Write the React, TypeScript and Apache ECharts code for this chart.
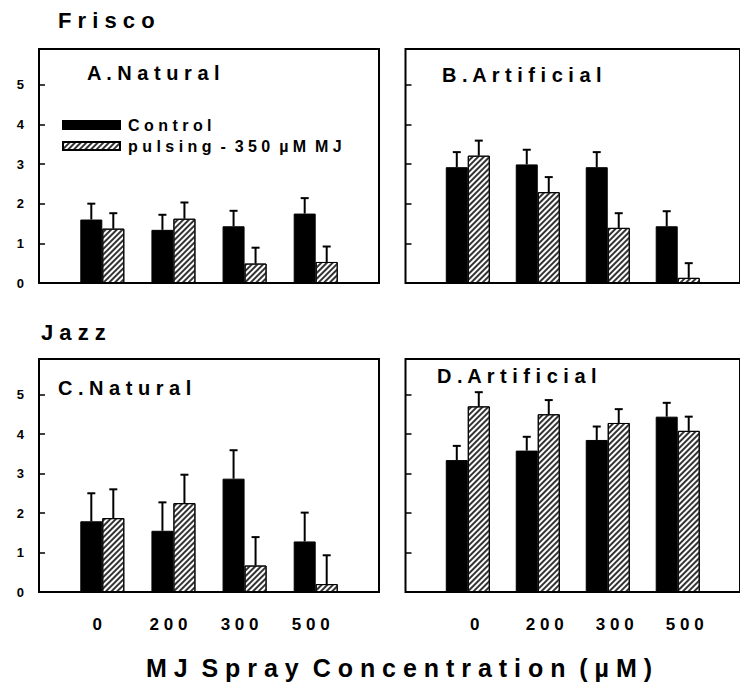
import React, { useEffect, useRef } from "react";
import * as echarts from "echarts";

// ---- data ----
const categories = ["0", "200", "300", "500"];
const xTickLabels = ["0", "2 0 0", "3 0 0", "5 0 0"];
const yTickValues = [0, 1, 2, 3, 4, 5];

const CONTROL = "C o n t r o l";
const PULSING = "p u l s i n g \u00A0- \u00A03 5 0 \u00A0µ M \u00A0M J";

// Frisco – A. Natural
const aControl = [1.6, 1.34, 1.43, 1.75];
const aControlErr = [0.4, 0.38, 0.39, 0.39];
const aPulsing = [1.37, 1.62, 0.49, 0.53];
const aPulsingErr = [0.39, 0.41, 0.4, 0.39];
// Frisco – B. Artificial
const bControl = [2.92, 2.99, 2.92, 1.43];
const bControlErr = [0.38, 0.37, 0.38, 0.38];
const bPulsing = [3.21, 2.29, 1.39, 0.13];
const bPulsingErr = [0.38, 0.38, 0.37, 0.37];
// Jazz – C. Natural
const cControl = [1.79, 1.55, 2.87, 1.28];
const cControlErr = [0.71, 0.72, 0.72, 0.73];
const cPulsing = [1.87, 2.25, 0.67, 0.2];
const cPulsingErr = [0.73, 0.72, 0.72, 0.73];
// Jazz – D. Artificial
const dControl = [3.34, 3.58, 3.85, 4.44];
const dControlErr = [0.36, 0.35, 0.34, 0.35];
const dPulsing = [4.7, 4.5, 4.28, 4.08];
const dPulsingErr = [0.36, 0.36, 0.35, 0.36];

const panelTitles = ["A . N a t u r a l", "B . A r t i f i c i a l", "C . N a t u r a l", "D . A r t i f i c i a l"];
const groupTitles = ["F r i s c o", "J a z z"];
const xAxisTitle = "M J \u00A0S p r a y \u00A0C o n c e n t r a t i o n \u00A0( µ M )";

const FONT = '"Liberation Sans", Arial, Helvetica, sans-serif';
const BAR_W = 22;

const hatch = {
  symbol: "rect",
  symbolSize: 1,
  color: "#333333",
  dashArrayX: [1, 0],
  dashArrayY: [2, 2],
  rotation: -Math.PI / 4,
};

function barSeries(name: string, idx: number, values: number[], hatched: boolean) {
  return {
    type: "bar",
    name,
    xAxisIndex: idx,
    yAxisIndex: idx,
    barWidth: BAR_W,
    barGap: "0%",
    data: values.map((v, i) => [i + 1, v]),
    itemStyle: hatched
      ? { color: "#ffffff", borderColor: "#000", borderWidth: 1, decal: hatch }
      : { color: "#000000", borderColor: "#000", borderWidth: 1 },
  };
}

function errSeries(idx: number, values: number[], errs: number[], offset: number) {
  return {
    type: "custom",
    xAxisIndex: idx,
    yAxisIndex: idx,
    silent: true,
    z: 5,
    data: values.map((v, i) => [i + 1, v, v + errs[i]]),
    renderItem: (params: any, api: any) => {
      const x = api.value(0);
      const lo = api.coord([x, api.value(1)]);
      const hi = api.coord([x, api.value(2)]);
      const cx = lo[0] + offset;
      return {
        type: "group",
        children: [
          { type: "line", shape: { x1: cx, y1: lo[1], x2: cx, y2: hi[1] }, style: { stroke: "#000", lineWidth: 2 } },
          { type: "line", shape: { x1: cx - 4, y1: hi[1], x2: cx + 4, y2: hi[1] }, style: { stroke: "#000", lineWidth: 2 } },
        ],
      };
    },
  };
}

const grids = [
  { left: 39, top: 49, width: 340, height: 234 },
  { left: 405.5, top: 49, width: 343, height: 234 },
  { left: 39, top: 359, width: 340, height: 233 },
  { left: 405.5, top: 359, width: 343, height: 233 },
];

const labelPadding = [
  [0, 0, 0, 0],
  [0, 0, 0, 0],
  [0, 10, 0, 0],
  [0, 0, 0, 14],
];

export default function App() {
  const ref = useRef<HTMLDivElement>(null);
  useEffect(() => {
    if (!ref.current) return;
    const chart = echarts.init(ref.current, undefined, { renderer: "svg" });
    const panels = [
      [aControl, aControlErr, aPulsing, aPulsingErr],
      [bControl, bControlErr, bPulsing, bPulsingErr],
      [cControl, cControlErr, cPulsing, cPulsingErr],
      [dControl, dControlErr, dPulsing, dPulsingErr],
    ];
    const series: any[] = [];
    panels.forEach((p, i) => {
      series.push(barSeries(CONTROL, i, p[0], false));
      series.push(barSeries(PULSING, i, p[2], true));
      series.push(errSeries(i, p[0], p[1], -BAR_W / 2));
      series.push(errSeries(i, p[2], p[3], BAR_W / 2));
    });
    const titlePos = [
      [87, 73],
      [442, 75],
      [58, 388],
      [437, 376],
    ];
    const option: any = {
      animation: false,
      backgroundColor: "#fff",
      grid: grids.map((g) => ({ ...g, show: true, borderColor: "#000", borderWidth: 2, backgroundColor: "transparent" })),
      xAxis: grids.map((g, i) => ({
        type: "value",
        gridIndex: i,
        min: 0.11,
        max: 4.89,
        axisLine: { show: false },
        axisTick: { show: false },
        splitLine: { show: false },
        axisLabel: {
          show: i >= 2,
          customValues: [1, 2, 3, 4],
          formatter: (v: number) => xTickLabels[Math.round(v) - 1] ?? "",
          fontSize: 17,
          fontWeight: "bold",
          fontFamily: FONT,
          color: "#000",
          margin: 24,
          padding: labelPadding[i],
        },
      })),
      yAxis: grids.map((g, i) => ({
        type: "value",
        gridIndex: i,
        min: 0,
        max: 5.9,
        interval: 1,
        axisLine: { show: false },
        splitLine: { show: false },
        axisTick: { show: true, inside: true, length: 6, lineStyle: { color: "#000", width: 1.5 } },
        axisLabel: {
          show: i % 2 === 0,
          showMaxLabel: false,
          fontSize: 13,
          fontWeight: "bold",
          fontFamily: FONT,
          color: "#000",
          margin: 15,
        },
      })),
      legend: {
        left: 57,
        top: 112,
        orient: "vertical",
        itemWidth: 57,
        itemHeight: 8,
        itemGap: 5,
        selectedMode: false,
        data: [
          { name: CONTROL, icon: "rect" },
          { name: PULSING, icon: "rect" },
        ],
        textStyle: { fontSize: 16, fontWeight: "bold", fontFamily: FONT, color: "#000", padding: [0, 0, 0, 3] },
      },
      graphic: [
        {
          type: "text",
          left: 58,
          top: 9,
          style: { text: groupTitles[0], fontSize: 22, fontWeight: "bold", fontFamily: FONT, fill: "#000" },
        },
        {
          type: "text",
          left: 41,
          top: 321,
          style: { text: groupTitles[1], fontSize: 22, fontWeight: "bold", fontFamily: FONT, fill: "#000" },
        },
        ...panelTitles.map((t, i) => ({
          type: "text",
          x: titlePos[i][0],
          y: titlePos[i][1],
          style: {
            text: t,
            fontSize: 20,
            fontWeight: "bold",
            fontFamily: FONT,
            fill: "#000",
            verticalAlign: "middle",
            textVerticalAlign: "middle",
          },
        })),
        {
          type: "text",
          x: 399,
          y: 668,
          style: {
            text: xAxisTitle,
            fontSize: 25,
            fontWeight: "bold",
            fontFamily: FONT,
            fill: "#000",
            align: "center",
            textAlign: "center",
            verticalAlign: "middle",
            textVerticalAlign: "middle",
          },
        },
      ],
      series,
    };
    chart.setOption(option);
    return () => chart.dispose();
  }, []);
  return (
    <div
      ref={ref}
      style={{ position: "absolute", left: 0, top: 0, width: 740, height: 686, background: "#fff" }}
    />
  );
}
